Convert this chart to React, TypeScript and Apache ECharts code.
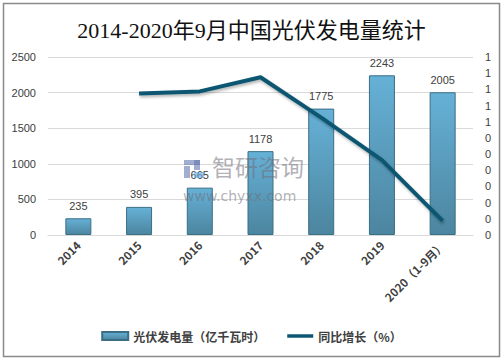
import React, { useEffect, useRef } from "react";
import * as echarts from "echarts";

const categories = ["2014", "2015", "2016", "2017", "2018", "2019", "2020（1-9月）"];
const generation = [235, 395, 665, 1178, 1775, 2243, 2005];
const growth = [null, 0.70, 0.71, 0.78, 0.58, 0.37, 0.07];
const leftTicks = { min: 0, max: 2500, interval: 500 };
const rightTicks = { min: 0, max: 0.88, interval: 0.08 };
const titleText = "2014-2020年9月中国光伏发电量统计";
const barName = "光伏发电量（亿千瓦时）";
const lineName = "同比增长（%）";

export default function App() {
  const ref = useRef<HTMLDivElement>(null);
  useEffect(() => {
    if (!ref.current) return;
    const chart = echarts.init(ref.current, null, { renderer: "svg" });
    const txt = "#404040";
    const wm = "rgba(110,110,120,0.55)";
    const barGrad = new echarts.graphic.LinearGradient(0, 0, 0, 1, [
      { offset: 0, color: "#66B1D7" },
      { offset: 1, color: "#4C859F" },
    ]);
    chart.setOption({
      animation: false,
      backgroundColor: "#fff",
      title: {
        text: titleText,
        left: "center",
        top: 14,
        textStyle: {
          fontFamily: "'Liberation Serif', 'Noto Sans CJK SC', serif",
          fontSize: 22,
          fontWeight: "normal",
          color: "#111",
        },
      },
      graphic: [
        {
          type: "rect",
          shape: { x: 3.5, y: 3.5, width: 496, height: 353 },
          style: { fill: "none", stroke: "#8a8a8a", lineWidth: 1.5 },
          z: 100,
        },
        { type: "rect", z: 50, shape: { x: 184, y: 160, width: 16, height: 5 }, style: { fill: "rgba(100,120,175,0.6)" } },
        { type: "rect", z: 50, shape: { x: 184, y: 166, width: 6, height: 12 }, style: { fill: "rgba(100,120,175,0.6)" } },
        { type: "rect", z: 50, shape: { x: 194, y: 160, width: 6, height: 10 }, style: { fill: "rgba(100,120,175,0.6)" } },
        { type: "rect", z: 50, shape: { x: 194, y: 172, width: 10, height: 6 }, style: { fill: "rgba(100,170,225,0.6)" } },
        {
          type: "text",
          z: 50,
          x: 212,
          y: 154,
          style: { text: "智研咨询", fontSize: 23, fontFamily: "'Noto Sans CJK SC'", fill: wm },
        },
        {
          type: "text",
          z: 50,
          x: 183,
          y: 189,
          style: { text: "www.chyxx.com", fontSize: 14, fontFamily: "'DejaVu Sans'", fill: wm, letterSpacing: 2 },
        },
      ],
      legend: {
        bottom: 14,
        left: "center",
        itemGap: 22,
        itemWidth: 26,
        itemHeight: 8,
        textStyle: { color: txt, fontSize: 12, fontWeight: "bold", fontFamily: "'Noto Sans CJK SC'" },
        data: [
          { name: barName, icon: "rect" },
          { name: lineName, icon: "path://M0,0 L26,0 L26,3.5 L0,3.5 Z" },
        ],
      },
      grid: { left: 48, right: 30, top: 57, bottom: 126 },
      xAxis: {
        type: "category",
        data: categories,
        axisLine: { lineStyle: { color: "#d9d9d9" } },
        axisTick: { show: false },
        axisLabel: {
          rotate: 45,
          interval: 0,
          margin: 8,
          color: txt,
          fontSize: 11.5,
          fontWeight: "bold",
          fontFamily: "'Noto Sans CJK SC', 'DejaVu Sans'",
        },
      },
      yAxis: [
        {
          type: "value",
          ...leftTicks,
          axisLine: { show: false },
          axisTick: { show: false },
          splitLine: { lineStyle: { color: "#d9d9d9" } },
          axisLabel: {
            color: txt,
            fontSize: 11,
            margin: 12,
            fontFamily: "'Liberation Sans'",
            formatter: (v: number) => String(v),
          },
        },
        {
          type: "value",
          ...rightTicks,
          axisLine: { show: false },
          axisTick: { show: false },
          splitLine: { show: false },
          axisLabel: {
            color: txt,
            fontSize: 11,
            margin: 12,
            fontFamily: "'Liberation Sans'",
            formatter: (v: number) => String(Math.round(v + 1e-9)),
          },
        },
      ],
      series: [
        {
          name: barName,
          type: "bar",
          data: generation,
          barWidth: 26,
          itemStyle: { color: barGrad, borderColor: "#3A6E85", borderWidth: 1 },
          label: { show: true, position: "top", color: txt, fontSize: 11, fontFamily: "'Liberation Sans'", distance: 7 },
        },
        {
          name: lineName,
          type: "line",
          yAxisIndex: 1,
          data: growth,
          symbol: "none",
          z: 10,
          lineStyle: {
            color: "#0D5672",
            width: 4,
            shadowColor: "rgba(0,0,0,0.3)",
            shadowBlur: 3,
            shadowOffsetX: 1,
            shadowOffsetY: 2,
          },
          itemStyle: { color: "#0D5672" },
        },
      ],
    });
    return () => chart.dispose();
  }, []);
  return <div ref={ref} style={{ position: "fixed", left: 0, top: 0, width: 503, height: 361 }} />;
}
